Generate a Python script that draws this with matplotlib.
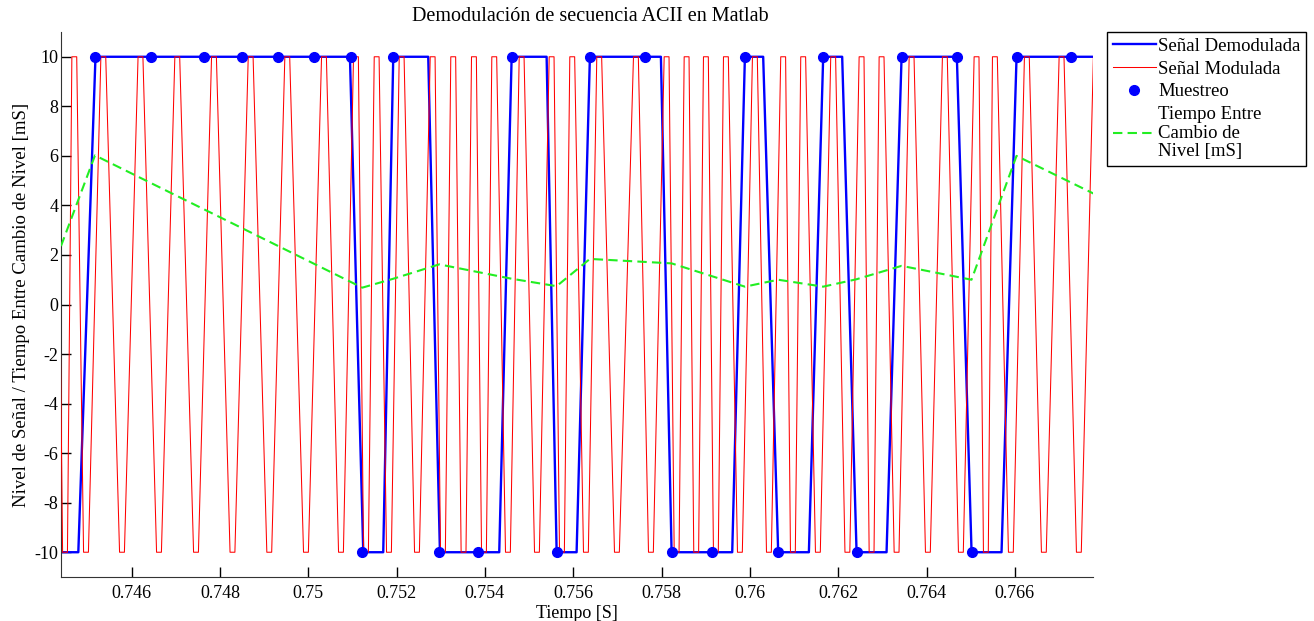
import matplotlib

matplotlib.use("Agg")

import matplotlib.pyplot as plt
from matplotlib.lines import Line2D


# demodulated signal (vertices of the blue trace)
demod_t = [0.7440, 0.744792, 0.745181, 0.750943, 0.751245, 0.751697, 0.751924,
           0.752716, 0.752981, 0.754324, 0.754605, 0.755397, 0.755624, 0.756076,
           0.756377, 0.757985, 0.758227, 0.759600, 0.759887, 0.760301, 0.760641,
           0.761336, 0.761660, 0.762090, 0.762416, 0.763095, 0.763435, 0.764687,
           0.765020, 0.765699, 0.766039, 0.7680]
demod_v = [-10, -10, 10, 10, -10, -10, 10,
           10, -10, -10, 10, 10, -10, -10,
           10, 10, -10, -10, 10, 10, -10,
           -10, 10, 10, -10, -10, 10, 10,
           -10, -10, 10, 10]

# sampling instants
sample_t = [0.745170, 0.746430, 0.747645, 0.748491, 0.749321, 0.750136, 0.750959,
            0.751223, 0.751925, 0.752966, 0.753849, 0.754604, 0.755623, 0.756377,
            0.757623, 0.758227, 0.759132, 0.759887, 0.760641, 0.761660, 0.762416,
            0.763435, 0.764680, 0.765019, 0.766038, 0.767283]
sample_v = [10, 10, 10, 10, 10, 10, 10,
            -10, 10, -10, -10, 10, -10, 10,
            10, -10, -10, 10, -10, 10, -10,
            10, 10, -10, 10, 10]

# time between level changes [mS]
change_t = [0.744400, 0.745170, 0.751223, 0.751925, 0.752966, 0.754604, 0.755623,
            0.756377, 0.758227, 0.759887, 0.760641, 0.761660, 0.762416, 0.763435,
            0.765019, 0.766038, 0.767780]
change_ms = [2.36, 6.02, 0.68, 1.04, 1.62, 1.04, 0.74,
             1.84, 1.66, 0.72, 1.00, 0.72, 1.02, 1.56,
             1.00, 6.00, 4.48]

# modulated signal: instants of the positive and negative peaks
peak_t = [0.744264, 0.744701, 0.745358, 0.746200, 0.747033, 0.747864, 0.748695,
          0.749524, 0.750355, 0.751079, 0.751548, 0.752114, 0.752816, 0.753282,
          0.753751, 0.754211, 0.754831, 0.755510, 0.755977, 0.756588, 0.757419,
          0.758114, 0.758567, 0.759004, 0.759457, 0.760113, 0.760754, 0.761207,
          0.761886, 0.762529, 0.762982, 0.763662, 0.764415, 0.765133, 0.765548,
          0.766272, 0.767058, 0.767834]
trough_t = [0.744491, 0.744966, 0.745781, 0.746619, 0.747457, 0.748283, 0.749116,
            0.749947, 0.750740, 0.751306, 0.751827, 0.752461, 0.753049, 0.753516,
            0.753978, 0.754521, 0.755178, 0.755744, 0.756287, 0.756989, 0.757759,
            0.758341, 0.758784, 0.759230, 0.759774, 0.760431, 0.760974, 0.761540,
            0.762208, 0.762756, 0.763322, 0.764031, 0.764778, 0.765344, 0.765910,
            0.766657, 0.767450]
AMPLITUDE = 10

x_ticks = [0.746, 0.748, 0.750, 0.752, 0.754, 0.756, 0.758, 0.760, 0.762, 0.764, 0.766]
x_tick_labels = ["0.746", "0.748", "0.75", "0.752", "0.754", "0.756", "0.758",
                 "0.76", "0.762", "0.764", "0.766"]
y_ticks = [-10, -8, -6, -4, -2, 0, 2, 4, 6, 8, 10]

PLATEAU = 0.000055  # half width of the flat top of every peak

BLUE = "#0000FF"
RED = "#FF0000"
GREEN = "#22EE22"


def build_modulated():
    events = sorted([(t, AMPLITUDE) for t in peak_t] + [(t, -AMPLITUDE) for t in trough_t])
    xs, ys = [], []
    for t, v in events:
        xs += [t - PLATEAU, t + PLATEAU]
        ys += [v, v]
    return xs, ys


def main():
    plt.rcParams["font.family"] = ["Liberation Serif", "DejaVu Serif"]
    plt.rcParams["axes.unicode_minus"] = False

    W, H = 1314, 621
    fig = plt.figure(figsize=(W / 100, H / 100), dpi=100)
    ax = fig.add_axes([61 / W, 1 - 577 / H, (1093 - 61) / W, (577 - 32) / H])

    ax.plot(demod_t, demod_v, color=BLUE, lw=1.7, zorder=2)
    mod_x, mod_y = build_modulated()
    ax.plot(mod_x, mod_y, color=RED, lw=0.75, zorder=3)
    ax.plot(sample_t, sample_v, "o", color=BLUE, ms=7, zorder=4)
    ax.plot(change_t, change_ms, "--", color=GREEN, lw=1.5, dashes=(4.5, 2.5), zorder=5)

    ax.set_xlim(0.74440, 0.76777)
    ax.set_ylim(-11, 11)
    ax.set_xticks(x_ticks)
    ax.set_xticklabels(x_tick_labels)
    ax.set_yticks(y_ticks)
    ax.tick_params(direction="in", length=7, width=1, labelsize=13)
    ax.tick_params(axis="x", pad=6)
    ax.tick_params(axis="y", pad=2)
    for side in ("top", "right"):
        ax.spines[side].set_visible(False)
    for side in ("left", "bottom"):
        ax.spines[side].set_color("#333333")

    ax.set_title("Demodulación de secuencia ACII en Matlab", fontsize=14.5, pad=8, x=0.5126)
    ax.set_xlabel("Tiempo [S]", fontsize=13, labelpad=2)
    ax.set_ylabel("Nivel de Señal / Tiempo Entre Cambio de Nivel [mS]", fontsize=13.5, labelpad=3)

    handles = [
        Line2D([], [], color=BLUE, lw=1.7),
        Line2D([], [], color=RED, lw=0.75),
        Line2D([], [], color=BLUE, marker="o", ls="none", ms=7),
        Line2D([], [], color=GREEN, lw=1.5, ls="--", dashes=(4.5, 2.5)),
    ]
    labels = ["Señal Demodulada", "Señal Modulada", "Muestreo",
              "Tiempo Entre\nCambio de\nNivel [mS]"]
    leg = fig.legend(handles, labels, loc="upper left",
                     bbox_to_anchor=(1107 / W, 1 - 32 / H),
                     frameon=True, fancybox=False, framealpha=1,
                     edgecolor="black", fontsize=13.5, handlelength=2.3,
                     handletextpad=0.12, labelspacing=0.3, borderpad=0.3,
                     borderaxespad=0)
    leg.get_frame().set_linewidth(1.0)
    for text in leg.get_texts():
        text.set_linespacing(1.13)

    fig.savefig("out.png", dpi=100)


if __name__ == "__main__":
    main()
